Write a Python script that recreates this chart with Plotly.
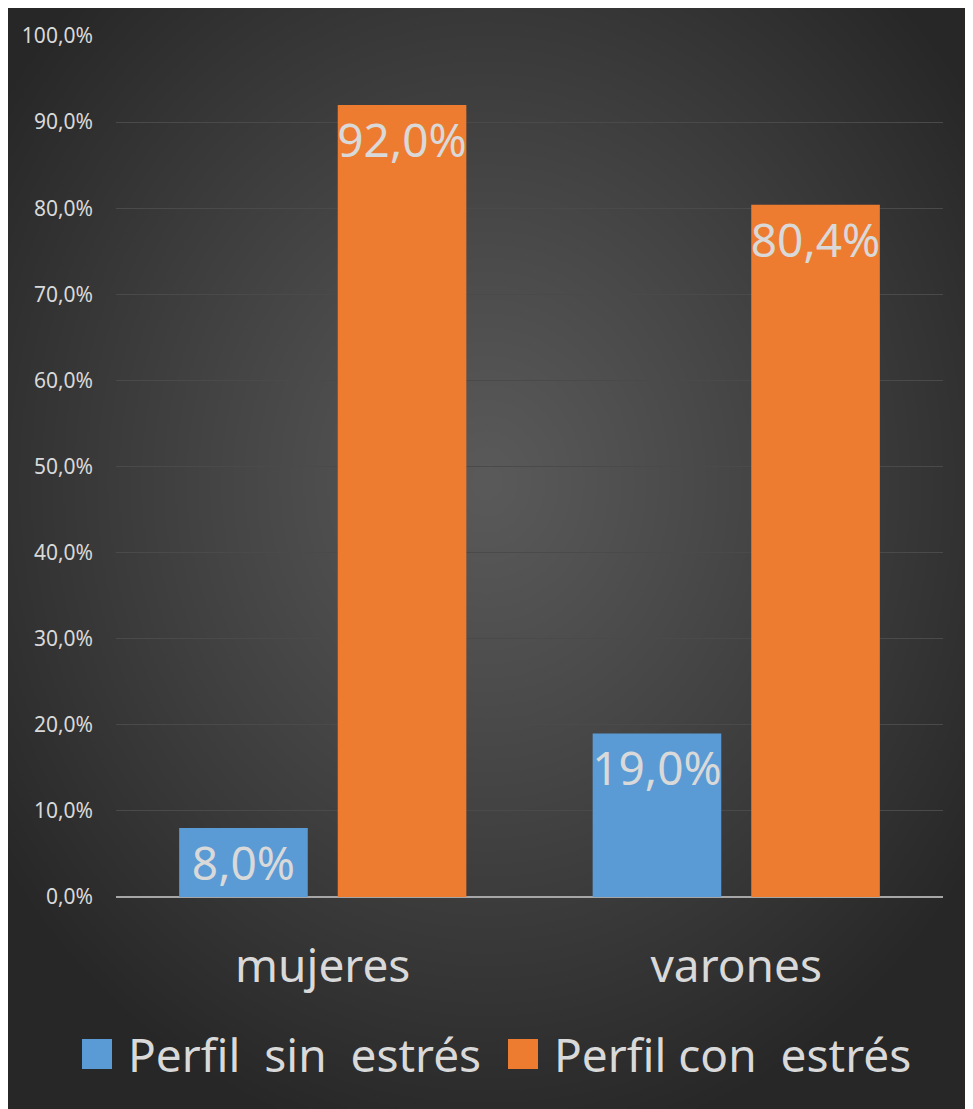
import base64, struct, zlib
import numpy as np
import plotly.graph_objects as go

categories = ["mujeres", "varones"]
series_names = ["Perfil\u00a0\u00a0sin\u00a0\u00a0estrés", "Perfil con\u00a0\u00a0estrés"]
sin_estres = [0.080, 0.190]
con_estres = [0.920, 0.804]
tick_vals = [0, 0.1, 0.2, 0.3, 0.4, 0.5, 0.6, 0.7, 0.8, 0.9, 1.0]

colors = ["#5b9bd5", "#ee7c30"]
TXT = "#d9d9d9"
FONT = "Noto Sans"

OFF = 8  # page body margin
W, H = 973 - OFF, 1109 - OFF
L, R, T, B = 116 - OFF, 943 - OFF, 36 - OFF, 897 - OFF


def png_uri(arr):
    h, w, _ = arr.shape
    raw = b"".join(b"\x00" + arr[i].tobytes() for i in range(h))

    def chunk(tag, data):
        c = struct.pack(">I", len(data)) + tag + data
        return c + struct.pack(">I", zlib.crc32(tag + data) & 0xFFFFFFFF)

    png = b"\x89PNG\r\n\x1a\n" + chunk(b"IHDR", struct.pack(">IIBBBBB", w, h, 8, 2, 0, 0, 0))
    png += chunk(b"IDAT", zlib.compress(raw, 9)) + chunk(b"IEND", b"")
    return "data:image/png;base64," + base64.b64encode(png).decode()


# radial background
bw, bh = 482, 551
yy, xx = np.mgrid[0:bh, 0:bw]
cx, cy = bw * 0.50, bh * 0.43
d = np.sqrt(((xx - cx) / (bw * 0.62)) ** 2 + ((yy - cy) / (bh * 0.62)) ** 2)
d = np.clip(d, 0, 1)
val = 0x5a + (0x27 - 0x5a) * d ** 1.1
img = np.repeat(val[:, :, None], 3, axis=2).astype(np.uint8)
bg_uri = png_uri(img)

pw, ph = R - L, B - T


def px(x):  # reference page pixel -> paper
    return (x - OFF - L) / pw


def py(y):
    return (B - (y - OFF)) / ph


fig = go.Figure()
for name, vals, col in zip(series_names, [sin_estres, con_estres], colors):
    fig.add_trace(go.Bar(
        x=categories, y=vals, name=name,
        marker=dict(color=col, line=dict(width=0)),
        text=[f"{v*100:.1f}%".replace(".", ",") for v in vals],
        textposition="inside", insidetextanchor="end", textangle=0,
        constraintext="none",
        textfont=dict(family=FONT, size=46, color=TXT),
        showlegend=False,
    ))

fig.add_layout_image(dict(
    source=bg_uri, xref="paper", yref="paper",
    x=px(4), y=py(7), sizex=(968 - 4) / pw, sizey=(1109 - 7) / ph,
    xanchor="left", yanchor="top", sizing="stretch", layer="below",
))

# manual legend
shapes = []
annotations = []
leg = [(82, 112, 126, series_names[0], colors[0]), (508, 538, 552, series_names[1], colors[1])]
for x0, x1, tx, name, col in leg:
    shapes.append(dict(type="rect", xref="paper", yref="paper",
                       x0=px(x0), x1=px(x1), y0=py(1069), y1=py(1039),
                       fillcolor=col, line=dict(width=0)))
    annotations.append(dict(xref="paper", yref="paper", x=px(tx), y=py(1054),
                            xanchor="left", yanchor="middle", showarrow=False,
                            text=name, font=dict(family=FONT, size=46, color=TXT)))

fig.update_layout(
    width=W, height=H,
    margin=dict(l=L, r=W - R, t=T, b=H - B, pad=0),
    paper_bgcolor="#000000", plot_bgcolor="rgba(0,0,0,0)",
    separators=",.",
    barmode="group", bargap=0.233, bargroupgap=0.189,
    showlegend=False,
    shapes=shapes, annotations=annotations,
    font=dict(family=FONT, color=TXT),
    xaxis=dict(showgrid=False, ticks="", showline=False, zeroline=False,
               tickfont=dict(family=FONT, size=46, color=TXT),
               ticklabelstandoff=38),
    yaxis=dict(range=[0, 1.0], tickvals=tick_vals, tickformat=".1%",
               showgrid=True, gridcolor="#4a4a4a", gridwidth=1,
               zeroline=True, zerolinecolor="#a6a6a6", zerolinewidth=2,
               showline=False, ticks="",
               tickfont=dict(family=FONT, size=21, color=TXT),
               ticklabelstandoff=22),
)

fig.write_html("out.html")
